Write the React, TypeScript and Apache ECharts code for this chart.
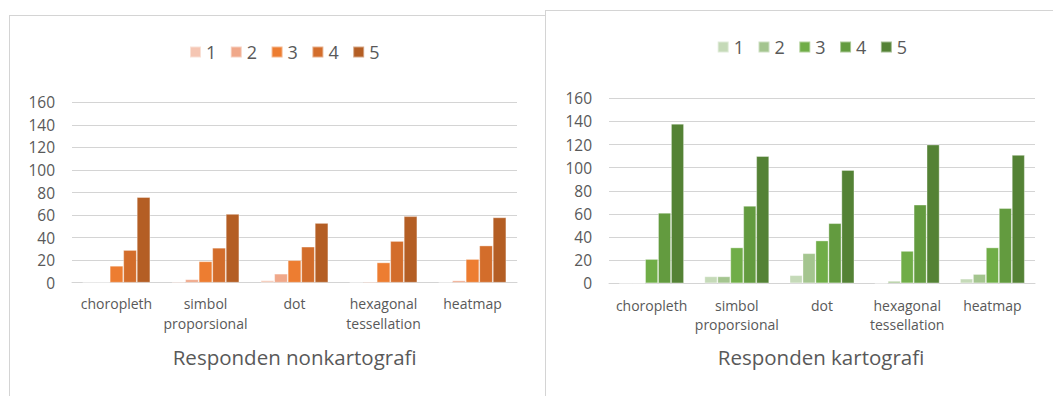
import React, { useEffect, useRef } from "react";
import * as echarts from "echarts";

const categories = ["choropleth", "simbol proporsional", "dot", "hexagonal tessellation", "heatmap"];
const seriesNames = ["1", "2", "3", "4", "5"];
const yTicks = { min: 0, max: 160, interval: 20 };

// Responden nonkartografi
const nonKarto1 = [0, 1, 2, 0, 0];
const nonKarto2 = [0, 3, 8, 1, 2];
const nonKarto3 = [15, 19, 20, 18, 21];
const nonKarto4 = [29, 31, 32, 37, 33];
const nonKarto5 = [76, 61, 53, 59, 58];

// Responden kartografi
const karto1 = [0, 6, 7, 0, 4];
const karto2 = [0, 6, 26, 2, 8];
const karto3 = [21, 31, 37, 28, 31];
const karto4 = [61, 67, 52, 68, 65];
const karto5 = [138, 110, 98, 120, 111];

const orangeColors = ["#F5C6B3", "#F0A88A", "#ED7D31", "#D36D2B", "#B45E24"];
const greenColors = ["#C5DAB8", "#A4C58F", "#70AD47", "#639B3F", "#548235"];

const FONT = "'Open Sans', sans-serif";
const GRAY = "#595959";

type Layout = {
  gridLeft: number;
  gridTop: number;
  gridWidth: number;
  gridHeight: number;
  legendLeft: number;
  legendTop: number;
  titleX: number;
  titleY: number;
  labelMargin: number;
};

function buildOption(title: string, data: number[][], colors: string[], L: Layout) {
  return {
    animation: false,
    textStyle: { fontFamily: FONT },
    color: colors,
    legend: {
      left: L.legendLeft,
      top: L.legendTop,
      padding: 0,
      icon: "rect",
      itemWidth: 11,
      itemHeight: 11,
      itemGap: 13.5,
      textStyle: { fontSize: 18, color: GRAY, fontFamily: FONT, lineHeight: 18 },
      data: seriesNames,
    },
    graphic: [
      {
        type: "text",
        x: L.titleX,
        y: L.titleY,
        style: {
          text: title,
          fontSize: 20.5,
          fontFamily: FONT,
          fill: GRAY,
          align: "center",
          verticalAlign: "middle",
        },
      },
    ],
    grid: {
      left: L.gridLeft,
      top: L.gridTop,
      width: L.gridWidth,
      height: L.gridHeight,
      containLabel: false,
      outerBoundsMode: "none",
    },
    xAxis: {
      type: "category",
      data: categories,
      axisLine: { show: true, lineStyle: { color: "#d4d4d4", width: 1 } },
      axisTick: { show: false },
      axisLabel: {
        interval: 0,
        fontSize: 14,
        color: GRAY,
        fontFamily: FONT,
        lineHeight: 19.5,
        margin: L.labelMargin,
        formatter: (v: string) => v.replace(" ", "\n"),
      },
    },
    yAxis: {
      type: "value",
      min: yTicks.min,
      max: yTicks.max,
      interval: yTicks.interval,
      axisLine: { show: false },
      axisTick: { show: false },
      axisLabel: { fontSize: 15.5, color: GRAY, fontFamily: FONT, margin: 17 },
      splitLine: { lineStyle: { color: "#d4d4d4", width: 1 } },
    },
    series: data.map((d, i) => ({
      name: seriesNames[i],
      type: "bar",
      data: d,
      barGap: "0%",
      barCategoryGap: "24%",
      itemStyle: { color: colors[i], borderColor: "rgba(255,255,255,0.45)", borderWidth: 0.8 },
    })),
  };
}

function Chart({ option }: { option: any }) {
  const ref = useRef<HTMLDivElement>(null);
  useEffect(() => {
    if (!ref.current) return;
    const chart = echarts.init(ref.current, null, { renderer: "svg" });
    chart.setOption(option);
    return () => chart.dispose();
  }, [option]);
  return <div ref={ref} style={{ width: "100%", height: "100%" }} />;
}

const leftOption = buildOption(
  "Responden nonkartografi",
  [nonKarto1, nonKarto2, nonKarto3, nonKarto4, nonKarto5],
  orangeColors,
  {
    gridLeft: 62,
    gridTop: 86.4,
    gridWidth: 445,
    gridHeight: 180.3,
    legendLeft: 179,
    legendTop: 27,
    titleX: 284.7,
    titleY: 341,
    labelMargin: 11.5,
  }
);

const rightOption = buildOption(
  "Responden kartografi",
  [karto1, karto2, karto3, karto4, karto5],
  greenColors,
  {
    gridLeft: 63,
    gridTop: 87.3,
    gridWidth: 426,
    gridHeight: 185,
    legendLeft: 170.7,
    legendTop: 27,
    titleX: 275,
    titleY: 346,
    labelMargin: 12,
  }
);

export default function App() {
  return (
    <div
      style={{
        position: "absolute",
        left: 0,
        top: 0,
        width: 1053,
        height: 396,
        overflow: "hidden",
        background: "#fff",
      }}
    >
      <div
        style={{
          position: "absolute",
          left: 9,
          top: 15,
          width: 560,
          height: 400,
          boxSizing: "border-box",
          border: "1px solid #d4d4d4",
          background: "#fff",
        }}
      >
        <Chart option={leftOption} />
      </div>
      <div
        style={{
          position: "absolute",
          left: 545,
          top: 10,
          width: 530,
          height: 400,
          boxSizing: "border-box",
          border: "1px solid #d4d4d4",
          background: "#fff",
        }}
      >
        <Chart option={rightOption} />
      </div>
    </div>
  );
}
